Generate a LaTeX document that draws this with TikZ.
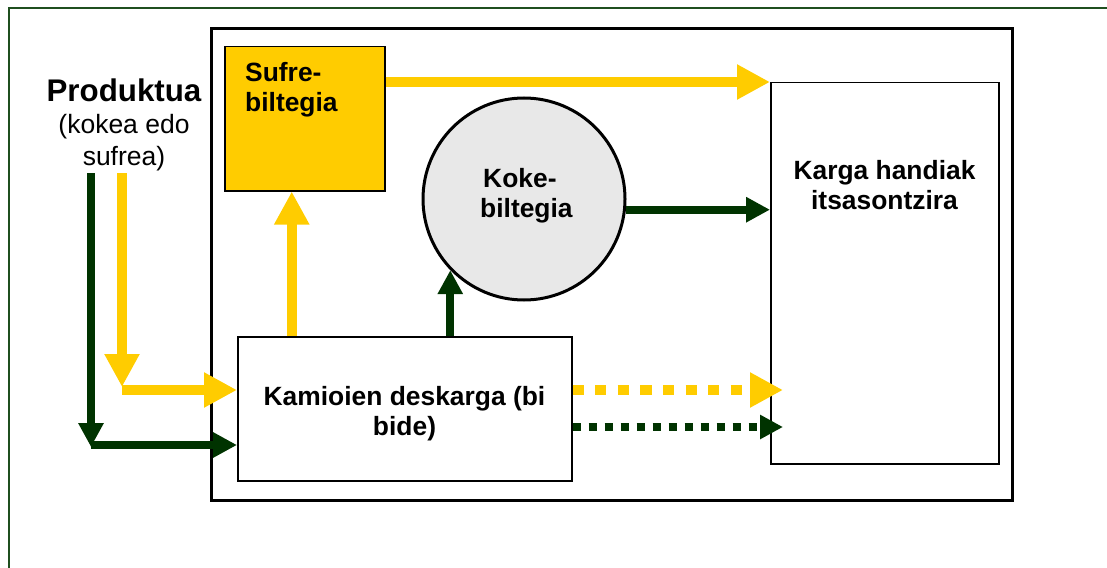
\documentclass[tikz,border=0pt]{standalone}
\usepackage{fontspec}
\setmainfont{Liberation Sans}
\usetikzlibrary{arrows.meta,calc}
\definecolor{ygold}{HTML}{FFCC00}
\definecolor{dgreen}{HTML}{003300}
\definecolor{bordergreen}{HTML}{1F4F1F}
\definecolor{cgray}{HTML}{E8E8E8}
\begin{document}
\begin{tikzpicture}[x=1pt,y=-1pt,
  box/.style={draw=black, line width=1.5pt, inner sep=0pt, anchor=north west},
  lbl/.style={font=\bfseries\fontsize{26.4}{30}\selectfont, inner sep=0pt},
  reg/.style={font=\fontsize{26.5}{30}\selectfont, inner sep=0pt},
  yarr/.style={draw=ygold, line width=10.5pt, -{Triangle[length=33pt,width=33pt]}},
  garr/.style={draw=dgreen, line width=8pt, -{Triangle[length=24pt,width=24pt]}},
  ydot/.style={draw=ygold, line width=10.7pt, dash pattern=on 11.3pt off 11.3pt, -{Triangle[length=33pt,width=33pt]}},
  gdot/.style={draw=dgreen, line width=8pt, dash pattern=on 8pt off 8pt, -{Triangle[length=23pt,width=23pt]}},
]
\useasboundingbox (0,0) rectangle (1107,567);
% outer border (open to the right and bottom)
\draw[bordergreen, line width=1.5pt] (9,600) -- (9,8) -- (1130,8);
% inner frame
\node[box, line width=3pt, minimum width=801pt, minimum height=472pt] (frame) at (210,27) {};
% boxes
\node[box, fill=ygold, minimum width=160pt, minimum height=144pt] (sufre) at (224,46) {};
\node[box, minimum width=334pt, minimum height=144pt] (kam) at (237,336) {};
\node[box, minimum width=228pt, minimum height=381pt] (karga) at (770,82) {};
\node[circle, draw=black, line width=3pt, fill=cgray, minimum size=202pt, inner sep=0pt] (koke) at (524,199) {};
% texts
\node[font=\bfseries\fontsize{31.3}{36}\selectfont, inner sep=0pt, anchor=base] (prod1) at (124,102) {Produktua};
\node[reg, anchor=base] (prod2) at (124,133) {(kokea edo};
\node[reg, anchor=base] (prod3) at (124,165) {sufrea)};
\node[lbl, anchor=base west] (sufre1) at (245,82) {Sufre-};
\node[lbl, anchor=base west] (sufre2) at (245,112) {biltegia};
\node[lbl, anchor=base west] (koke1) at (483,187) {Koke-};
\node[lbl, anchor=base west] (koke2) at (480,217) {biltegia};
\node[lbl, anchor=base] (karga1) at (884.5,179) {Karga handiak};
\node[lbl, anchor=base] (karga2) at (884.5,209) {itsasontzira};
\node[lbl, anchor=base] (kam1) at (404.5,405) {Kamioien deskarga (bi};
\node[lbl, anchor=base] (kam2) at (404.5,435) {bide)};
% coordinates for free ends
\coordinate (ytop) at (122,173);
\coordinate (ycorner) at (122,387);
\coordinate (ystart) at (122,390);
\coordinate (gtop) at (91,173);
\coordinate (gcorner) at (91,447);
\coordinate (gstart) at (91,445);
\coordinate (ydotend) at (783,390);
\coordinate (gdotend) at (783,427);
\coordinate (yup) at ($(sufre.south)+(-13,0)$);
\coordinate (kgreen) at (koke.-6);
% connectors
\draw[yarr] (ytop) -- (ycorner);
\draw[line width=10.5pt, ygold] (ystart) -- ++(5,0);
\draw[yarr] (ystart) -- (ystart -| kam.west);
\draw[garr] (gtop) -- (gcorner);
\draw[garr] (gstart) -- (gstart -| kam.west);
\draw[yarr] (yup |- kam.north) -- (yup);
\draw[yarr] (sufre.east |- karga.north west) -- (karga.north west);
\draw[garr] (koke.224 |- kam.north) -- (koke.224);
\draw[garr] (kgreen) -- (kgreen -| karga.west);
\draw[ydot] (ydotend -| kam.east) -- (ydotend);
\draw[gdot] (gdotend -| kam.east) -- (gdotend);
\end{tikzpicture}
\end{document}
